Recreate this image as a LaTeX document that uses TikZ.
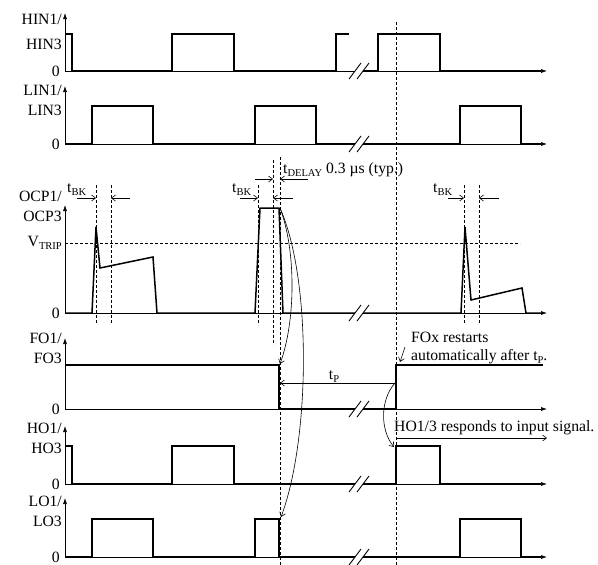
\documentclass[tikz,border=0pt]{standalone}
\usepackage{fontspec}
\setmainfont{Liberation Serif}
\usetikzlibrary{arrows.meta,calc,positioning}
\newcommand{\lowsub}[1]{\raisebox{-0.45ex}{\fontsize{10.5}{10.5}\selectfont #1}}

\begin{document}
\begin{tikzpicture}[x=1pt,y=-1pt,
  font=\fontsize{15.7}{20}\selectfont,
  sig/.style={line width=1.5pt},
  axis/.style={line width=0.6pt,-{Latex[length=6pt,width=4pt]}},
  guide/.style={line width=0.6pt,dash pattern=on 3pt off 2pt},
  dim/.style={line width=0.6pt,-{Straight Barb[length=4pt,width=6pt]}},
  ylab/.style={align=right,anchor=east,inner sep=0pt},
  txt/.style={anchor=base west,inner sep=0pt}]
\useasboundingbox (0,0) rectangle (598,565);

% axes of the six panels
\foreach \b/\t in {71/13,144/86,313/205,409/338,484/426,557/498}{
  \draw[axis] (65,\b) -- (65,\t);
  \draw[axis] (65,\b) -- (547,\b);
  \node[anchor=east,inner sep=0pt] (zero\b) at (60,\b) {0};
}
\node[ylab] (hin) at (62,32) {HIN1/\\[5pt]HIN3};
\node[ylab] (lin) at (62,100) {LIN1/\\LIN3};
\node[ylab] (ocp) at (62,206) {OCP1/\\OCP3};
\node[ylab] (vtrip) at (62,243) {V\lowsub{TRIP}};
\node[ylab] (fo) at (62,348) {FO1/\\FO3};
\node[ylab] (ho) at (62,438) {HO1/\\HO3};
\node[ylab] (lo) at (62,511) {LO1/\\LO3};

% waveforms
\draw[sig] (65,34) -- (72,34) -- (72,71) -- (172,71) -- (172,34) -- (234,34) -- (234,71)
  -- (336,71) -- (336,34) -- (349,34);
\draw[sig] (362,71) -- (378,71) -- (378,34) -- (440,34) -- (440,71) -- (541,71);
\draw[sig] (65,144) -- (92,144) -- (92,106) -- (153,106) -- (153,144) -- (255,144)
  -- (255,106) -- (316,106) -- (316,144) -- (460,144) -- (460,106) -- (521,106)
  -- (521,144) -- (541,144);
\draw[guide] (65,243) -- (520,243);
\draw[sig] (65,313) -- (92,313) -- (96,227) -- (100,268) -- (153,257) -- (157,313)
  -- (255,313) -- (260,208) -- (279,208) -- (283,313) -- (461,313) -- (465,227)
  -- (471,300) -- (522,288) -- (526,313) -- (541,313);
\draw[sig] (65,365) -- (279,365) -- (279,409) -- (396,409) -- (396,365) -- (543,365);
\draw[sig] (65,446) -- (72,446) -- (72,484) -- (172,484) -- (172,446) -- (234,446)
  -- (234,484) -- (396,484) -- (396,446) -- (440,446) -- (440,484) -- (541,484);
\draw[sig] (65,557) -- (92,557) -- (92,519) -- (153,519) -- (153,557) -- (255,557)
  -- (255,519) -- (279,519) -- (279,557) -- (460,557) -- (460,519) -- (521,519)
  -- (521,557) -- (541,557);

% time breaks
\foreach \b in {71,144,313,409,484,557}{
  \fill[white] (349,\b+8) -- (361,\b-8) -- (369,\b-8) -- (357,\b+8) -- cycle;
  \draw[line width=0.9pt] (349,\b+8) -- (361,\b-8) (357,\b+8) -- (369,\b-8);
}

% dashed timing guides
\draw[guide] (96,185) -- (96,323);
\draw[guide] (111,185) -- (111,323);
\draw[guide] (258,185) -- (258,325);
\draw[guide] (273,160) -- (273,345);
\draw[guide] (280,157) -- (280,565);
\draw[guide] (464,185) -- (464,323);
\draw[guide] (479,185) -- (479,323);
\draw[guide] (396,22) -- (396,565);

% blanking and delay times
\draw[dim] (77,198) -- (96,198);
\draw[dim] (130,198) -- (111,198);
\node[txt] (tbk1) at (67,192) {t\lowsub{BK}};
\draw[dim] (240,198) -- (258,198);
\draw[dim] (293,198) -- (273,198);
\node[txt] (tbk2) at (232,192) {t\lowsub{BK}};
\draw[dim] (448,198) -- (464,198);
\draw[dim] (499,198) -- (479,198);
\node[txt] (tbk3) at (433,192) {t\lowsub{BK}};
\draw[dim] (255,179) -- (273,179);
\draw[dim] (308,179) -- (280,179);
\node[txt] (tdly) at (283,173) {t\lowsub{DELAY} 0.3 µs (typ.)};

% protection time and reactions
\coordinate (ocptop) at (280,208);
\coordinate (fofall) at (280,364);
\coordinate (lofall) at (281,517);
\coordinate (tpend) at (395,383);
\coordinate (horise) at (394,447);
\draw[dim,{Straight Barb[length=4pt,width=6pt]}-] (280,383) -- (tpend);
\node[anchor=base,inner sep=0pt] (tp) at (334,379) {t\lowsub{P}};
\draw[dim] (ocptop) .. controls (296,250) and (296,320) .. (fofall);
\draw[dim] (ocptop) .. controls (312,280) and (310,440) .. (lofall);
\draw[dim] (tpend) .. controls (380,400) and (380,430) .. (horise);
\node[txt] (fox) at (411,342) {FOx restarts};
\node[txt] (auto) at (411,360) {automatically after t\lowsub{P}.};
\draw[dim] (405,347) -- (400,362);
\node[txt] (horesp) at (394,431) {HO1/3 responds to input signal.};
\draw[dim] (396,438) -- (547,438);
\end{tikzpicture}
\end{document}
